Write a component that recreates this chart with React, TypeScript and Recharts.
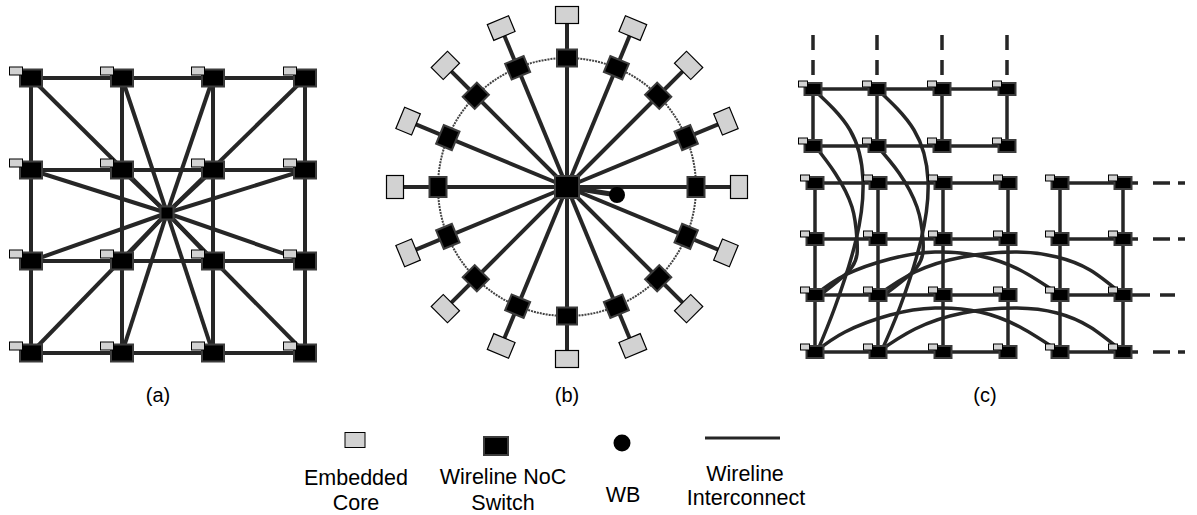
import { ComposedChart, XAxis, YAxis, Scatter, Line, ReferenceLine, ReferenceDot } from "recharts";

const W = 1197;
const H = 515;
const WIRE = "#262626";
const FONT = "'Liberation Sans', Arial, sans-serif";

// (a) 4x4 mesh with a central hub
const A_COLS = [31, 122, 213, 305];
const A_ROWS = [78, 170, 261, 353];
const A_HUB = { x: 167, y: 213 };

// (b) ring of 16 switches around a hub
const B_HUB = { x: 567, y: 187 };
const B_RING_R = 129;
const B_CORE_R = 172;
const B_ANGLES = [0, 22.5, 45, 67.5, 90, 112.5, 135, 157.5, 180, 202.5, 225, 247.5, 270, 292.5, 315, 337.5];
const B_WB = { x: 617, y: 195 };

// (c) partial meshes with long-range links
const C_TOP_COLS = [813, 877, 942, 1007];
const C_TOP_ROWS = [89, 146];
const C_COLS = [815, 878, 943, 1008, 1060, 1123];
const C_ROWS = [183, 239, 295, 352];
const C_ARCS = [
  [{ x: 813, y: 89 }, { x: 850, y: 130 }, { x: 863, y: 180 }, { x: 856, y: 240 }, { x: 835, y: 307 }, { x: 817, y: 352 }],
  [{ x: 815, y: 146 }, { x: 835, y: 173 }, { x: 852, y: 207 }, { x: 857, y: 240 }, { x: 852, y: 267 }, { x: 820, y: 295 }],
  [{ x: 877, y: 89 }, { x: 914, y: 130 }, { x: 928, y: 180 }, { x: 921, y: 240 }, { x: 900, y: 307 }, { x: 881, y: 352 }],
  [{ x: 877, y: 146 }, { x: 899, y: 173 }, { x: 917, y: 207 }, { x: 923, y: 240 }, { x: 917, y: 267 }, { x: 884, y: 295 }],
  [{ x: 815, y: 295 }, { x: 845, y: 275 }, { x: 890, y: 259 }, { x: 935, y: 252 }, { x: 980, y: 256 }, { x: 1020, y: 270 }, { x: 1060, y: 295 }],
  [{ x: 878, y: 295 }, { x: 915, y: 272 }, { x: 963, y: 257 }, { x: 1017, y: 252 }, { x: 1057, y: 257 }, { x: 1090, y: 270 }, { x: 1123, y: 295 }],
  [{ x: 815, y: 352 }, { x: 845, y: 332 }, { x: 890, y: 315 }, { x: 935, y: 308 }, { x: 980, y: 312 }, { x: 1020, y: 327 }, { x: 1060, y: 352 }],
  [{ x: 878, y: 352 }, { x: 915, y: 329 }, { x: 963, y: 313 }, { x: 1017, y: 308 }, { x: 1057, y: 313 }, { x: 1090, y: 327 }, { x: 1123, y: 352 }],
];
const C_DASH_TOP = [35, 76];
const C_DASH_END = [1186, 1186, 1176, 1186];

const PANEL_LABELS = [
  { x: 158, y: 402, text: "(a)" },
  { x: 567, y: 402, text: "(b)" },
  { x: 985, y: 402, text: "(c)" },
];

const LEGEND_CORE = [{ x: 355, y: 440 }];
const LEGEND_SWITCH = [{ x: 496, y: 446 }];
const LEGEND_WB = [{ x: 622, y: 443 }];
const LEGEND_WIRE = [{ x: 705, y: 438 }, { x: 780, y: 438 }];
const LEGEND_TEXT = [
  { x: 356, y: 485, text: "Embedded" },
  { x: 356, y: 510, text: "Core" },
  { x: 503, y: 484, text: "Wireline NoC" },
  { x: 503, y: 510, text: "Switch" },
  { x: 623, y: 502, text: "WB" },
  { x: 745, y: 481, text: "Wireline" },
  { x: 746, y: 505, text: "Interconnect" },
];

type Pt = { x: number; y: number; a?: number };

const grid = (cols: number[], rows: number[]): Pt[] =>
  rows.flatMap((y) => cols.map((x) => ({ x, y })));

const polar = (r: number): Pt[] =>
  B_ANGLES.map((a) => ({
    x: B_HUB.x + r * Math.cos((a * Math.PI) / 180),
    y: B_HUB.y - r * Math.sin((a * Math.PI) / 180),
    a,
  }));

const seg = (p: Pt, q: Pt, key: string, width = 4, dash?: string) => (
  <ReferenceLine
    key={key}
    segment={[{ x: p.x, y: p.y }, { x: q.x, y: q.y }]}
    stroke={WIRE}
    strokeWidth={width}
    strokeDasharray={dash}
    ifOverflow="visible"
  />
);

const switchShape = (w: number, h: number) => (props: any) => (
  <rect x={props.cx - w / 2} y={props.cy - h / 2} width={w} height={h} fill="#000" stroke="#3c3c3c" strokeWidth={2} />
);

const coreShape = (w: number, h: number, dx: number, dy: number) => (props: any) => (
  <rect x={props.cx + dx - w / 2} y={props.cy + dy - h / 2} width={w} height={h} fill="#d2d2d2" stroke="#000" strokeWidth={1} />
);

const rotShape = (radial: number, tang: number, fill: string, stroke: string, sw: number) => (props: any) => {
  const a = props.payload?.a ?? 0;
  return (
    <rect
      x={props.cx - radial / 2}
      y={props.cy - tang / 2}
      width={radial}
      height={tang}
      fill={fill}
      stroke={stroke}
      strokeWidth={sw}
      transform={`rotate(${-a} ${props.cx} ${props.cy})`}
    />
  );
};

const textShape = (size: number) => (props: any) => (
  <text x={props.cx} y={props.cy} textAnchor="middle" fontSize={size} fontFamily={FONT} fill="#000">
    {props.payload.text}
  </text>
);

export default function App() {
  const aNodes = grid(A_COLS, A_ROWS);
  const ringNodes = polar(B_RING_R);
  const ringCores = polar(B_CORE_R);
  const cTop = grid(C_TOP_COLS, C_TOP_ROWS);
  const cLow = grid(C_COLS, C_ROWS);

  const lines: JSX.Element[] = [];
  // (a)
  A_ROWS.forEach((y, i) => lines.push(seg({ x: A_COLS[0], y }, { x: A_COLS[3], y }, `ah${i}`)));
  A_COLS.forEach((x, i) => lines.push(seg({ x, y: A_ROWS[0] }, { x, y: A_ROWS[3] }, `av${i}`)));
  aNodes.forEach((p, i) => lines.push(seg(A_HUB, p, `as${i}`)));
  // (b)
  ringNodes.forEach((p, i) => lines.push(seg(B_HUB, p, `bs${i}`)));
  ringNodes.forEach((p, i) => lines.push(seg(p, ringCores[i], `bc${i}`)));
  lines.push(seg(B_HUB, B_WB, "bwb", 5));
  // (c)
  C_TOP_ROWS.forEach((y, i) => lines.push(seg({ x: C_TOP_COLS[0], y }, { x: C_TOP_COLS[3], y }, `cth${i}`, 3.5)));
  C_TOP_COLS.forEach((x, i) => lines.push(seg({ x, y: C_TOP_ROWS[0] }, { x, y: C_TOP_ROWS[1] }, `ctv${i}`, 3.5)));
  C_TOP_COLS.forEach((x, i) => lines.push(seg({ x, y: C_DASH_TOP[0] }, { x, y: C_DASH_TOP[1] }, `ctd${i}`, 3.5, "15 10")));
  C_ROWS.forEach((y, i) => {
    lines.push(seg({ x: C_COLS[0], y }, { x: C_COLS[3], y }, `clh${i}`, 3.5));
    lines.push(seg({ x: C_COLS[4], y }, { x: C_COLS[5], y }, `crh${i}`, 3.5));
    lines.push(seg({ x: C_COLS[5], y }, { x: C_DASH_END[i], y }, `crd${i}`, 3.5, i === 2 ? "27 10 15 40" : "15 15 17 8 7 40"));
  });
  C_COLS.forEach((x, i) => lines.push(seg({ x, y: C_ROWS[0] }, { x, y: C_ROWS[3] }, `clv${i}`, 3.5)));

  return (
    <div style={{ position: "absolute", left: 0, top: 0, background: "#fff" }}>
      <ComposedChart width={W} height={H} margin={{ top: 0, right: 0, bottom: 0, left: 0 }}>
        <XAxis type="number" dataKey="x" domain={[0, W]} allowDataOverflow hide />
        <YAxis type="number" dataKey="y" domain={[0, H]} allowDataOverflow reversed hide />

        <ReferenceDot x={B_HUB.x} y={B_HUB.y} r={B_RING_R} fill="none" stroke="#444" strokeWidth={2} strokeDasharray="2 1" ifOverflow="visible" />
        {lines}
        {C_ARCS.map((arc, i) => (
          <Line key={`arc${i}`} data={arc} dataKey="y" type="natural" dot={false} activeDot={false}
            stroke={WIRE} strokeWidth={3.5} isAnimationActive={false} />
        ))}

        {/* (a) */}
        <Scatter data={aNodes} shape={switchShape(22, 17)} isAnimationActive={false} />
        <Scatter data={aNodes} shape={coreShape(13, 8, -15, -7)} isAnimationActive={false} />
        <Scatter data={[A_HUB]} shape={switchShape(13, 13)} isAnimationActive={false} />

        {/* (b) */}
        <Scatter data={ringNodes} shape={rotShape(17, 20, "#000", "#3c3c3c", 2)} isAnimationActive={false} />
        <Scatter data={ringCores} shape={rotShape(17, 23, "#d2d2d2", "#000", 1.2)} isAnimationActive={false} />
        <Scatter data={[B_HUB]} shape={switchShape(24, 22)} isAnimationActive={false} />
        <Scatter data={[B_WB]} shape={(p: any) => <circle cx={p.cx} cy={p.cy} r={8} fill="#000" />} isAnimationActive={false} />

        {/* (c) */}
        <Scatter data={[...cTop, ...cLow]} shape={switchShape(17, 12)} isAnimationActive={false} />
        <Scatter data={[...cTop, ...cLow]} shape={coreShape(9, 6, -10, -5)} isAnimationActive={false} />

        {/* labels and legend */}
        <Scatter data={PANEL_LABELS} shape={textShape(20)} isAnimationActive={false} />
        <Scatter data={LEGEND_CORE} shape={coreShape(20, 15, 0, 0)} isAnimationActive={false} />
        <Scatter data={LEGEND_SWITCH} shape={switchShape(24, 18)} isAnimationActive={false} />
        <Scatter data={LEGEND_WB} shape={(p: any) => <circle cx={p.cx} cy={p.cy} r={8.5} fill="#000" />} isAnimationActive={false} />
        <Line data={LEGEND_WIRE} dataKey="y" type="linear" dot={false} activeDot={false} stroke={WIRE} strokeWidth={3} isAnimationActive={false} />
        <Scatter data={LEGEND_TEXT} shape={textShape(21.5)} isAnimationActive={false} />
      </ComposedChart>
    </div>
  );
}
